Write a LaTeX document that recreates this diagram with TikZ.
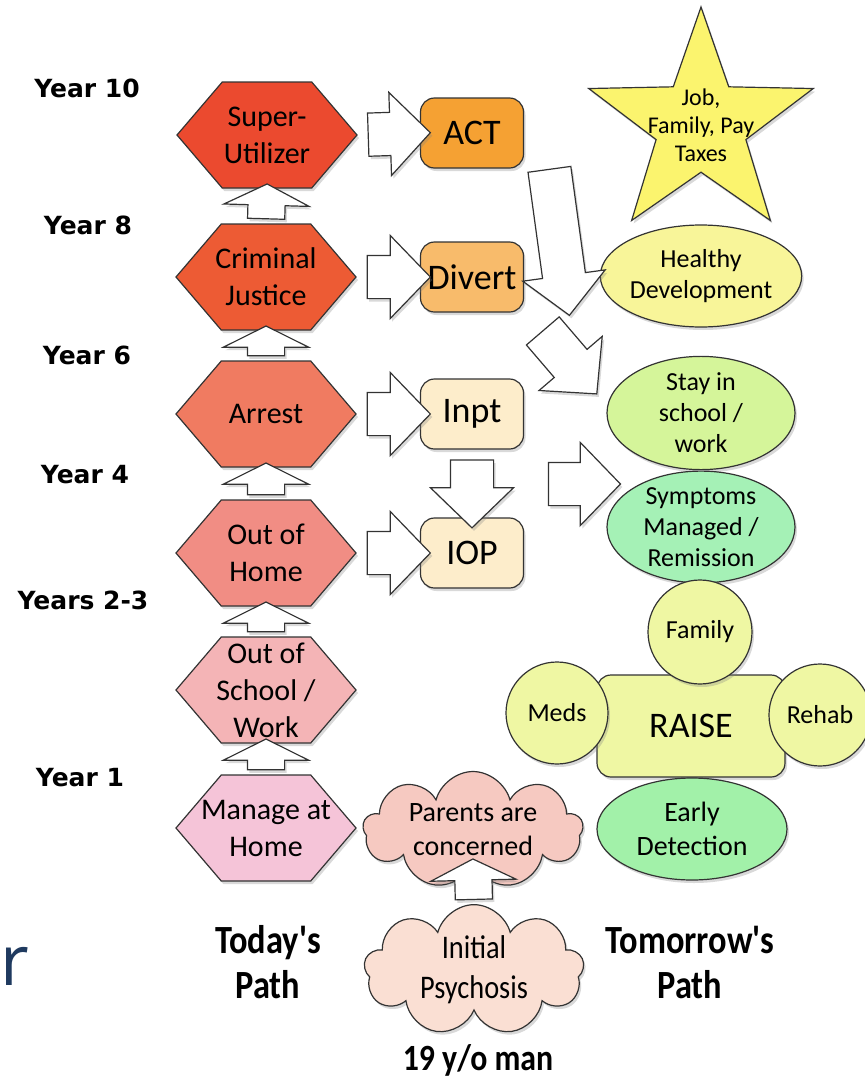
\documentclass[tikz,border=0pt]{standalone}
\usepackage{fontspec}
\setmainfont{Carlito}
\newfontfamily\yearfont{DejaVu Sans}
\newfontfamily\narrowfont[FakeStretch=0.86]{Carlito}
\newfontfamily\slidefont{Open Sans}
\usetikzlibrary{shapes.geometric,shapes.symbols,shapes.arrows,shadows,calc}

\definecolor{superred}{HTML}{EB4A2F}
\definecolor{crimred}{HTML}{ED5B34}
\definecolor{arrestred}{HTML}{F07B61}
\definecolor{homepink}{HTML}{F18D84}
\definecolor{schoolpink}{HTML}{F4B4B6}
\definecolor{managepink}{HTML}{F5C4D8}
\definecolor{actorange}{HTML}{F5A133}
\definecolor{divertorange}{HTML}{F8BB6B}
\definecolor{inptcream}{HTML}{FDEDCB}
\definecolor{staryellow}{HTML}{FBF46E}
\definecolor{healthyyellow}{HTML}{F8F599}
\definecolor{staygreen}{HTML}{D5F59A}
\definecolor{symptomgreen}{HTML}{A5F1B6}
\definecolor{raiseyellow}{HTML}{EFF7A3}
\definecolor{earlygreen}{HTML}{A2F1A9}
\definecolor{parentpink}{HTML}{F6C9C1}
\definecolor{initialpeach}{HTML}{FADFD3}
\definecolor{slidenavy}{HTML}{1F3A5F}

\tikzset{
  shade/.style={drop shadow={shadow xshift=2pt, shadow yshift=-3pt, opacity=.3}},
  outline/.style={draw=black!80, line width=1.2pt},
  hexa/.style={signal, signal to=east and west, signal pointer angle=99, outline,
    minimum width=180pt, minimum height=106pt, inner xsep=-22pt, inner ysep=-12pt,
    align=center, font=\fontsize{30}{37}\selectfont, shade},
  pathbox/.style={rectangle, rounded corners=14pt, outline, minimum width=103pt,
    minimum height=70pt, inner sep=0pt, font=\fontsize{36}{40}\selectfont, shade},
  goal/.style={ellipse, outline, minimum width=188pt, minimum height=102pt,
    inner sep=0pt, align=center, font=\fontsize{26}{31}\selectfont, shade},
  part/.style={circle, outline, fill=raiseyellow, minimum size=102pt, inner sep=0pt,
    font=\fontsize{26}{31}\selectfont, shade},
  worry/.style={cloud, cloud puffs=9, cloud ignores aspect, outline, minimum width=220pt,
    minimum height=95pt, inner sep=0pt, align=center, shade},
  year/.style={font=\yearfont\bfseries\fontsize{25}{30}\selectfont},
  pathlabel/.style={align=center, font=\narrowfont\bfseries\fontsize{40}{45}\selectfont},
  bigarrow/.style={single arrow, outline, fill=white, inner sep=0pt, inner ysep=21pt,
    single arrow head extend=20pt, single arrow tip angle=92, sloped, allow upside down, shade},
  uparrow/.style={single arrow, outline, fill=white, inner sep=0pt, inner ysep=18pt,
    single arrow head extend=24pt, single arrow tip angle=127, sloped, allow upside down, shade}
}

\begin{document}
\begin{tikzpicture}[x=1pt, y=-1pt]
  \useasboundingbox (0,0) rectangle (865,1082);

  % Years
  \node[year] (y10) at (87,88) {Year 10};
  \node[year] (y8) at (88,225) {Year 8};
  \node[year] (y6) at (87,355) {Year 6};
  \node[year] (y4) at (85,475) {Year 4};
  \node[year] (y23) at (83,600) {Years 2-3};
  \node[year] (y1) at (80,778) {Year 1};

  % Today's path
  \node[hexa, fill=superred] (super) at (267,135) {Super-\\Utilizer};
  \node[hexa, fill=crimred] (crim) at (266,277) {Criminal\\Justice};
  \node[hexa, fill=arrestred] (arrest) at (266,414) {Arrest};
  \node[hexa, fill=homepink] (ooh) at (266,553) {Out of\\Home};
  \node[hexa, fill=schoolpink] (oos) at (266,690) {Out of\\School /\\Work};
  \node[hexa, fill=managepink] (manage) at (266,828) {Manage at\\Home};

  % Services
  \node[pathbox, fill=actorange] (act) at (472,133) {ACT};
  \node[pathbox, fill=divertorange] (divert) at (472,277) {Divert};
  \node[pathbox, fill=inptcream] (inpt) at (472,414) {Inpt};
  \node[pathbox, fill=inptcream] (iop) at (472,553) {IOP};

  % Tomorrow's path
  \node[star, star points=5, star point ratio=2.5, outline, fill=staryellow,
    minimum size=236pt, inner sep=0pt, shade,
    label={[align=center, font=\fontsize{24}{28}\selectfont]center:Job,\\Family, Pay\\Taxes}]
    (star) at (701,125) {};
  \node[goal, fill=healthyyellow] (healthy) at (701,276) {Healthy\\Development};
  \node[goal, fill=staygreen, minimum height=100pt] (stay) at (701,413) {Stay in\\school /\\work};
  \node[goal, fill=symptomgreen] (symptoms) at (701,527) {Symptoms\\Managed /\\Remission};
  \node[rectangle, rounded corners=14pt, outline, fill=raiseyellow, minimum width=188pt,
    minimum height=102pt, font=\fontsize{36}{40}\selectfont, shade] (raise) at (691,726) {RAISE};
  \node[part, minimum size=104pt] (family) at (700,632) {Family};
  \node[part] (meds) at (557,713) {Meds};
  \node[part] (rehab) at (820,715) {Rehab};
  \node[goal, fill=earlygreen, minimum width=190pt, font=\fontsize{28}{34}\selectfont]
    (early) at (692,829) {Early\\Detection};

  % Start
  \node[worry, fill=parentpink, font=\fontsize{28}{34}\selectfont] (parents) at (473,830)
    {Parents are\\concerned};
  \node[worry, fill=initialpeach, minimum height=110pt, text=black,
    font=\narrowfont\fontsize{33}{40}\selectfont] (initial) at (474,970) {Initial\\Psychosis};

  \node[pathlabel] (today) at (268,962) {Today's\\Path};
  \node[pathlabel] (tomorrow) at (690,962) {Tomorrow's\\Path};
  \node[pathlabel, font=\narrowfont\bfseries\fontsize{37}{45}\selectfont] (man) at (478,1060) {19 y/o man};
  \node[anchor=base west, text=slidenavy, font=\slidefont\fontsize{70}{70}\selectfont]
    (slide) at (-3,985) {r};

  % Up arrows
  \foreach \lo/\hi in {manage/oos, oos/ooh, ooh/arrest, arrest/crim, crim/super}
    \path let \p1=($(\hi.south)-(\lo.north)$), \n1={veclen(\x1,\y1)} in
      (\lo.north) -- node[uparrow, minimum height=\n1] {} (\hi.south);
  \path let \p1=($(parents.south)-(initial.north)$), \n1={veclen(\x1,\y1)} in
    (initial.north) -- node[uparrow, minimum height=\n1] {} (parents.south);

  % Arrows to services
  \foreach \from/\to in {super/act, crim/divert, arrest/inpt, ooh/iop}
    \path let \p1=($(\to.west)-(\from.east)$), \n1={veclen(\x1,\y1)} in
      (\from.east) -- node[bigarrow, minimum height=\n1] {} (\to.west);
  \path let \p1=($(iop.north)-(inpt.south)$), \n1={veclen(\x1,\y1)} in
    (inpt.south) -- node[bigarrow, minimum height=\n1] {} (iop.north);

  % Arrows to tomorrow's path
  \coordinate (actout) at (548,159);
  \coordinate (healthyin) at (568,305);
  \coordinate (divertout) at (536,323);
  \coordinate (stayin) at (590,386);
  \coordinate (careout) at (538,484);
  \coordinate (carein) at (610,484);
  \foreach \from/\to in {actout/healthyin, divertout/stayin, careout/carein}
    \path let \p1=($(\to)-(\from)$), \n1={veclen(\x1,\y1)} in
      (\from) -- node[bigarrow, minimum height=\n1] {} (\to);
\end{tikzpicture}
\end{document}
